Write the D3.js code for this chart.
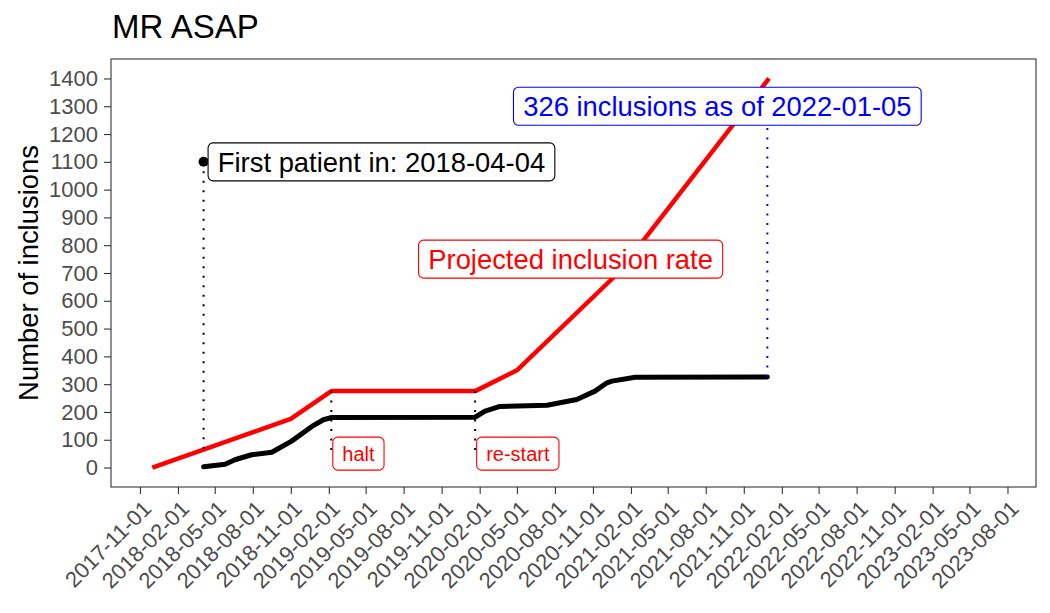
<!DOCTYPE html>
<html>
<head>
<meta charset="utf-8">
<script src="https://cdn.jsdelivr.net/npm/d3@7"></script>
<style>
  body { margin: 0; background: #fff; }
  svg { display: block; font-family: "Liberation Sans", Arial, sans-serif; }
</style>
</head>
<body>
<div class="graphic"></div>
<script>
// projected inclusion rate (red line)
var projDates = ["2017-12-01", "2018-11-01", "2019-02-07", "2020-01-21", "2020-05-01", "2021-01-01", "2022-01-01"];
var projValues = [0, 175, 275, 275, 350, 700, 1400];

// actual cumulative inclusions (black line)
var inclDates = ["2018-04-04", "2018-05-26", "2018-06-19", "2018-07-29", "2018-09-16", "2018-11-03",
  "2018-12-22", "2019-01-19", "2019-02-08", "2020-01-21", "2020-02-14", "2020-03-21", "2020-07-13",
  "2020-09-23", "2020-11-06", "2020-12-05", "2020-12-17", "2021-02-11", "2021-12-28"];
var inclValues = [3, 12, 28, 46, 55, 95, 148, 172, 180, 181, 203, 220, 224, 245, 275, 305, 311, 325, 326];

// events
var eventLabels = ["halt", "re-start"];
var eventDates = ["2019-02-07", "2020-01-21"];

var firstPatientDate = "2018-04-04";
var lastDate = "2021-12-28";
var lastCount = 326;

var xTickLabels = ["2017-11-01", "2018-02-01", "2018-05-01", "2018-08-01", "2018-11-01", "2019-02-01",
  "2019-05-01", "2019-08-01", "2019-11-01", "2020-02-01", "2020-05-01", "2020-08-01", "2020-11-01",
  "2021-02-01", "2021-05-01", "2021-08-01", "2021-11-01", "2022-02-01", "2022-05-01", "2022-08-01",
  "2022-11-01", "2023-02-01", "2023-05-01", "2023-08-01"];
var yTicks = [0, 100, 200, 300, 400, 500, 600, 700, 800, 900, 1000, 1100, 1200, 1300, 1400];

var render = function() {
  var parse = d3.utcParse("%Y-%m-%d");

  var W = 1050, H = 613;
  var pLeft = 111, pRight = 1036, pTop = 59, pBottom = 487;

  var svg = d3.select(".graphic").append("svg")
    .attr("width", W).attr("height", H);

  var x = d3.scaleUtc()
    .domain([parse("2017-08-23"), parse("2023-10-09")])
    .range([pLeft, pRight]);
  var y = d3.scaleLinear()
    .domain([-70, 1470])
    .range([pBottom, pTop]);

  // title
  svg.append("text")
    .attr("x", 112).attr("y", 38)
    .attr("font-size", 33).attr("fill", "#000")
    .text("MR ASAP");

  // y axis title
  svg.append("text")
    .attr("transform", "translate(38," + ((pTop + pBottom) / 2) + ") rotate(-90)")
    .attr("text-anchor", "middle")
    .attr("font-size", 27.4).attr("fill", "#000")
    .text("Number of inclusions");

  // axes
  var yAxis = svg.append("g")
    .attr("transform", "translate(" + pLeft + ",0)")
    .call(d3.axisLeft(y).tickValues(yTicks).tickSize(7).tickPadding(6).tickFormat(d3.format("d")));
  var xAxis = svg.append("g")
    .attr("transform", "translate(0," + pBottom + ")")
    .call(d3.axisBottom(x).tickValues(xTickLabels.map(parse)).tickSize(7).tickFormat(d3.utcFormat("%Y-%m-%d")));

  [yAxis, xAxis].forEach(function(a) {
    a.select(".domain").remove();
    a.selectAll(".tick line").attr("stroke", "#333").attr("stroke-width", 1.1);
    a.selectAll(".tick text").attr("fill", "#4d4d4d").attr("font-size", 22)
      .attr("font-family", "\"Liberation Sans\", Arial, sans-serif");
  });
  xAxis.selectAll(".tick text")
    .attr("x", 0).attr("y", 0).attr("dy", "0.72em")
    .attr("text-anchor", "end")
    .attr("transform", "translate(1,12) rotate(-45)");

  // panel border
  svg.append("rect")
    .attr("x", pLeft).attr("y", pTop)
    .attr("width", pRight - pLeft).attr("height", pBottom - pTop)
    .attr("fill", "none").attr("stroke", "#333").attr("stroke-width", 1.1);

  var line = d3.line()
    .x(function(d) { return x(d[0]); })
    .y(function(d) { return y(d[1]); });

  var proj = projDates.map(function(d, i) { return [parse(d), projValues[i]]; });
  var incl = inclDates.map(function(d, i) { return [parse(d), inclValues[i]]; });

  svg.append("path")
    .attr("d", line(proj))
    .attr("fill", "none").attr("stroke", "#ff0000").attr("stroke-width", 4.5)
    .attr("stroke-linejoin", "round");

  svg.append("path")
    .attr("d", line(incl))
    .attr("fill", "none").attr("stroke", "#000").attr("stroke-width", 5)
    .attr("stroke-linejoin", "round").attr("stroke-linecap", "round");

  // dotted segments
  function dotted(date, v0, v1, color) {
    svg.append("line")
      .attr("x1", x(parse(date))).attr("x2", x(parse(date)))
      .attr("y1", y(v0)).attr("y2", y(v1))
      .attr("stroke", color).attr("stroke-width", 2)
      .attr("stroke-dasharray", "2 7.5");
  }
  dotted(firstPatientDate, 1100, 50, "#000");
  eventDates.forEach(function(d) { dotted(d, 275, 50, "#000"); });
  dotted(lastDate, lastCount, 1300, "#0000ff");

  // first patient point
  svg.append("circle")
    .attr("cx", x(parse(firstPatientDate))).attr("cy", y(1100))
    .attr("r", 5).attr("fill", "#000");

  // boxed labels
  function boxLabel(px, py, text, color, size, h, anchor) {
    var g = svg.append("g");
    var rect = g.append("rect");
    var t = g.append("text")
      .attr("font-size", size).attr("fill", color)
      .text(text);
    var w = t.node().getComputedTextLength();
    var padX = size > 24 ? 9.7 : 9.5;
    var bw = w + 2 * padX;
    var bx = anchor === "start" ? px : px - bw / 2;
    t.attr("x", bx + padX).attr("y", py).attr("dy", "0.36em");
    rect.attr("x", bx).attr("y", py - h / 2)
      .attr("width", bw).attr("height", h)
      .attr("rx", 5).attr("ry", 5)
      .attr("fill", "#fff").attr("stroke", color).attr("stroke-width", 1.1);
  }

  boxLabel(x(parse(firstPatientDate)) + 4.5, y(1100), "First patient in: " + firstPatientDate, "#000", 27.4, 38, "start");
  eventLabels.forEach(function(l, i) {
    boxLabel(x(parse(eventDates[i])) + 1.5, y(50), l, "#ff0000", 20, 33, "start");
  });
  boxLabel(x(parse("2020-09-08")), y(750), "Projected inclusion rate", "#ff0000", 27.4, 38, "middle");
  boxLabel(x(parse("2021-08-29")), y(1300), lastCount + " inclusions as of 2022-01-05", "#0000ff", 27.4, 38, "middle");
};

render();
</script>
</body>
</html>
